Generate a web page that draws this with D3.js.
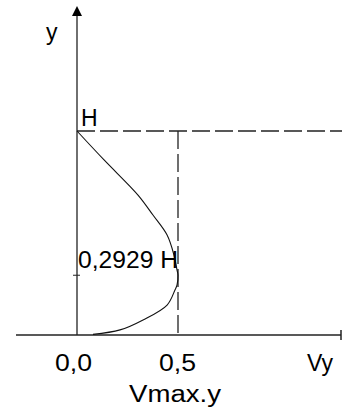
<!DOCTYPE html>
<html>
<head>
<meta charset="utf-8">
<script src="https://cdn.jsdelivr.net/npm/d3@7"></script>
<style>
  body { margin: 0; background: #fff; }
  svg { display: block; }
  text { font-family: "Liberation Sans", Arial, sans-serif; font-size: 23px; fill: #000; }
</style>
</head>
<body>
<script>
// velocity profile (V / Vmax and y / H)
var velocity = [0, 0.134, 0.302, 0.376, 0.446, 0.480, 0.495, 0.5, 0.495, 0.485, 0.446, 0.327, 0.213, 0.079];
var heights  = [1, 0.858, 0.686, 0.588, 0.490, 0.392, 0.319, 0.2929, 0.245, 0.221, 0.147, 0.074, 0.025, 0.003];

// tick values and their labels
var xTicks = [0, 0.5];
var xTickLabels = ["0,0", "0,5"];
var yTicks = [0.2929];
var yTickLabels = ["0,2929 H"];
var topValue = 1;
var topLabel = "H";

window.onload = function() {

  var width = 342;
  var height = 409;

  var svg = d3.select("body")
              .append("svg")
              .attr("width", width)
              .attr("height", height);

  // scales for velocity and height
  var x = d3.scaleLinear().domain([0, 0.5]).range([77, 178]);
  var y = d3.scaleLinear().domain([0, 1]).range([335, 131]);

  var axisColor = "#222";

  // x axis line with small end bar
  svg.append("line")
     .attr("x1", 16).attr("x2", 341)
     .attr("y1", y(0)).attr("y2", y(0))
     .attr("stroke", axisColor).attr("stroke-width", 1.3);
  svg.append("line")
     .attr("x1", 341).attr("x2", 341)
     .attr("y1", y(0) - 5).attr("y2", y(0) + 5)
     .attr("stroke", axisColor).attr("stroke-width", 1.5);

  // y axis line with arrow
  svg.append("line")
     .attr("x1", x(0)).attr("x2", x(0))
     .attr("y1", 15).attr("y2", y(0))
     .attr("stroke", axisColor).attr("stroke-width", 1.3);
  svg.append("path")
     .attr("d", "M" + x(0) + ",6 L" + (x(0) - 5) + ",16 L" + (x(0) + 5) + ",16 Z")
     .attr("fill", "#000");

  // dashed lines at H and at 0,5
  svg.append("line")
     .attr("x1", x(0)).attr("x2", width)
     .attr("y1", y(topValue)).attr("y2", y(topValue))
     .attr("stroke", axisColor).attr("stroke-width", 1.3)
     .attr("stroke-dasharray", "18,5");
  svg.append("line")
     .attr("x1", x(0.5)).attr("x2", x(0.5))
     .attr("y1", y(topValue)).attr("y2", y(0))
     .attr("stroke", axisColor).attr("stroke-width", 1.3)
     .attr("stroke-dasharray", "18,5");

  // small tick on the y axis
  svg.selectAll("line.ytick")
     .data(yTicks)
     .enter()
     .append("line")
     .attr("class", "ytick")
     .attr("x1", x(0) - 4).attr("x2", x(0) + 3)
     .attr("y1", function(d) { return y(d); })
     .attr("y2", function(d) { return y(d); })
     .attr("stroke", axisColor).attr("stroke-width", 1);

  // the velocity curve
  var points = velocity.map(function(v, i) { return [v, heights[i]]; });
  var line = d3.line()
               .x(function(d) { return x(d[0]); })
               .y(function(d) { return y(d[1]); })
               .curve(d3.curveCatmullRom);
  svg.append("path")
     .datum(points)
     .attr("d", line)
     .attr("fill", "none")
     .attr("stroke", "#111")
     .attr("stroke-width", 1.1);

  // labels
  svg.append("text").attr("x", 46).attr("y", 40).text("y");
  svg.append("text").attr("x", 81).attr("y", y(topValue) - 5).text(topLabel);

  svg.selectAll("text.ylab")
     .data(yTicks)
     .enter()
     .append("text")
     .attr("class", "ylab")
     .attr("x", 78)
     .attr("y", function(d) { return y(d) - 7; })
     .attr("textLength", 100)
     .attr("lengthAdjust", "spacingAndGlyphs")
     .text(function(d, i) { return yTickLabels[i]; });

  svg.selectAll("text.xlab")
     .data(xTicks)
     .enter()
     .append("text")
     .attr("class", "xlab")
     .attr("x", function(d) { return x(d) - (d === 0 ? 22 : 19); })
     .attr("y", 371)
     .attr("textLength", 37)
     .attr("lengthAdjust", "spacingAndGlyphs")
     .text(function(d, i) { return xTickLabels[i]; });

  svg.append("text").attr("x", 307).attr("y", 371).text("Vy");

  svg.append("text")
     .attr("x", 129).attr("y", 402)
     .attr("textLength", 92)
     .attr("lengthAdjust", "spacingAndGlyphs")
     .text("Vmax.y");
};
</script>
</body>
</html>
